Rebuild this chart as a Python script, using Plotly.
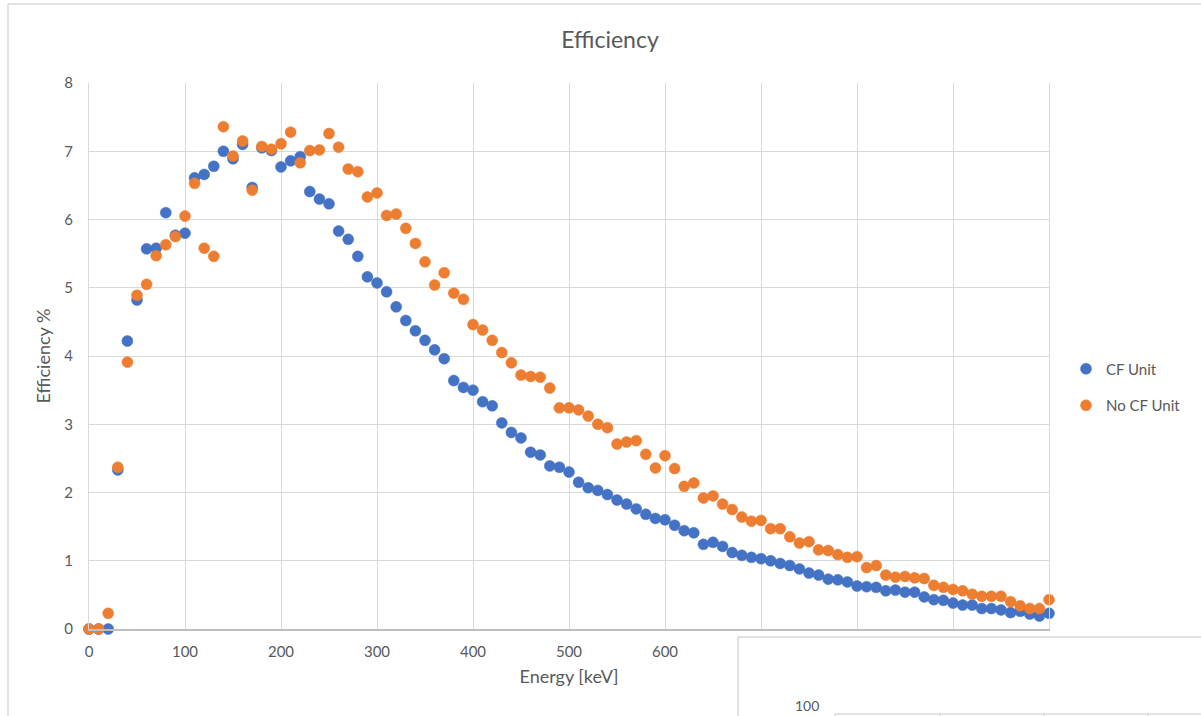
import plotly.graph_objects as go

energy_kev = list(range(0, 1001, 10))

cf_unit = [
    0.00, 0.00, 0.00, 2.33, 4.22, 4.82, 5.57, 5.58, 6.10, 5.77,
    5.80, 6.61, 6.66, 6.78, 7.00, 6.89, 7.10, 6.47, 7.05, 7.01,
    6.77, 6.86, 6.92, 6.41, 6.30, 6.23, 5.83, 5.71, 5.46, 5.16,
    5.07, 4.94, 4.72, 4.52, 4.37, 4.23, 4.09, 3.96, 3.64, 3.54,
    3.50, 3.33, 3.27, 3.02, 2.88, 2.80, 2.59, 2.55, 2.39, 2.37,
    2.30, 2.15, 2.07, 2.03, 1.97, 1.89, 1.83, 1.76, 1.68, 1.62,
    1.60, 1.52, 1.44, 1.41, 1.24, 1.27, 1.21, 1.12, 1.08, 1.05,
    1.03, 1.00, 0.96, 0.93, 0.88, 0.82, 0.79, 0.73, 0.72, 0.69,
    0.63, 0.62, 0.61, 0.56, 0.57, 0.54, 0.54, 0.47, 0.43, 0.42,
    0.38, 0.35, 0.35, 0.30, 0.30, 0.28, 0.24, 0.26, 0.22, 0.19,
    0.23,
]

no_cf_unit = [
    0.00, 0.00, 0.23, 2.37, 3.91, 4.89, 5.05, 5.47, 5.63, 5.75,
    6.05, 6.53, 5.58, 5.46, 7.36, 6.93, 7.15, 6.43, 7.07, 7.03,
    7.11, 7.28, 6.83, 7.01, 7.02, 7.26, 7.06, 6.74, 6.70, 6.33,
    6.39, 6.06, 6.08, 5.87, 5.65, 5.38, 5.04, 5.22, 4.92, 4.83,
    4.46, 4.38, 4.23, 4.05, 3.90, 3.72, 3.70, 3.69, 3.53, 3.24,
    3.24, 3.21, 3.12, 3.00, 2.95, 2.71, 2.74, 2.76, 2.56, 2.36,
    2.54, 2.35, 2.09, 2.14, 1.92, 1.95, 1.83, 1.75, 1.64, 1.58,
    1.59, 1.47, 1.47, 1.35, 1.26, 1.28, 1.16, 1.15, 1.09, 1.05,
    1.06, 0.90, 0.93, 0.79, 0.76, 0.77, 0.75, 0.74, 0.64, 0.61,
    0.58, 0.56, 0.51, 0.48, 0.48, 0.48, 0.40, 0.34, 0.30, 0.30,
    0.43,
]

x_ticks = list(range(0, 1001, 100))
y_ticks = list(range(0, 9, 1))

FONT = "Lato"
TXT = "#595959"
GRID = "#d9d9d9"

W, H = 1201, 716
L, R, T, B = 89, 1049, 83, 629


def px(xp):
    return (xp - L) / (R - L)


def py(yp):
    return (B - yp) / (B - T)


fig = go.Figure()
fig.add_trace(go.Scatter(
    x=energy_kev, y=cf_unit, mode="markers", name="CF Unit",
    legendgroup="a", cliponaxis=False,
    marker=dict(color="#4472C4", size=11, line=dict(color="#4472C4", width=0.5)),
))
fig.add_trace(go.Scatter(
    x=energy_kev, y=no_cf_unit, mode="markers", name="No CF Unit",
    legendgroup="b", cliponaxis=False,
    marker=dict(color="#ED7D31", size=11, line=dict(color="#ED7D31", width=0.5)),
))

shapes = [
    # outer chart-area border (left and top)
    dict(type="line", xref="paper", yref="paper", x0=px(8), x1=px(8), y0=py(4), y1=py(730),
         line=dict(color=GRID, width=1.5), layer="above"),
    dict(type="line", xref="paper", yref="paper", x0=px(8), x1=px(1220), y0=py(4), y1=py(4),
         line=dict(color=GRID, width=1.5), layer="above"),
    # overlapping second chart box at the bottom right
    dict(type="rect", xref="paper", yref="paper", x0=px(738), x1=px(1230), y0=py(637), y1=py(740),
         fillcolor="white", line=dict(color=GRID, width=1.5), layer="above"),
    dict(type="line", xref="paper", yref="paper", x0=px(835), x1=px(1230), y0=py(714), y1=py(714),
         line=dict(color=GRID, width=1.5), layer="above"),
]
for gx in (835, 940, 1044, 1148):
    shapes.append(dict(type="line", xref="paper", yref="paper", x0=px(gx), x1=px(gx),
                       y0=py(714), y1=py(740), line=dict(color=GRID, width=1.5), layer="above"))

fig.update_layout(
    width=W, height=H,
    margin=dict(l=L, r=W - R, t=T, b=H - B, pad=0),
    paper_bgcolor="white", plot_bgcolor="white",
    font=dict(family=FONT, color=TXT, size=15),
    title=dict(text="Efficiency", x=610 / W, xref="container", xanchor="center",
               y=1 - 40 / H, yref="container", yanchor="middle",
               font=dict(family=FONT, size=23, color=TXT)),
    showlegend=True,
    legend=dict(x=px(1066), xanchor="left", y=py(387), yanchor="middle",
                font=dict(family=FONT, size=15, color=TXT),
                tracegroupgap=14, itemsizing="trace", bgcolor="rgba(0,0,0,0)"),
    xaxis=dict(
        range=[0, 1000], tickvals=x_ticks, ticktext=[str(v) for v in x_ticks],
        showgrid=True, gridcolor=GRID, gridwidth=1,
        showline=True, linecolor="#bfbfbf", linewidth=1.5,
        zeroline=False,
        ticks="outside", ticklen=8, tickcolor="rgba(0,0,0,0)",
        tickfont=dict(family=FONT, size=15, color=TXT),
        title=dict(text="Energy [keV]", standoff=12,
                   font=dict(family=FONT, size=18, color=TXT)),
    ),
    yaxis=dict(
        range=[0, 8], tickvals=y_ticks, ticktext=[str(v) for v in y_ticks],
        showgrid=True, gridcolor=GRID, gridwidth=1,
        showline=True, linecolor=GRID, linewidth=1, mirror=True,
        zeroline=False,
        ticks="outside", ticklen=12, tickcolor="rgba(0,0,0,0)",
        tickfont=dict(family=FONT, size=15, color=TXT),
        title=dict(text="Efficiency %", standoff=8,
                   font=dict(family=FONT, size=18, color=TXT)),
    ),
    shapes=shapes,
    annotations=[
        dict(text="100", xref="paper", yref="paper", x=px(821), y=py(716),
             xanchor="right", yanchor="bottom", showarrow=False,
             font=dict(family=FONT, size=14, color=TXT)),
    ],
)

fig.write_html("out.html")
